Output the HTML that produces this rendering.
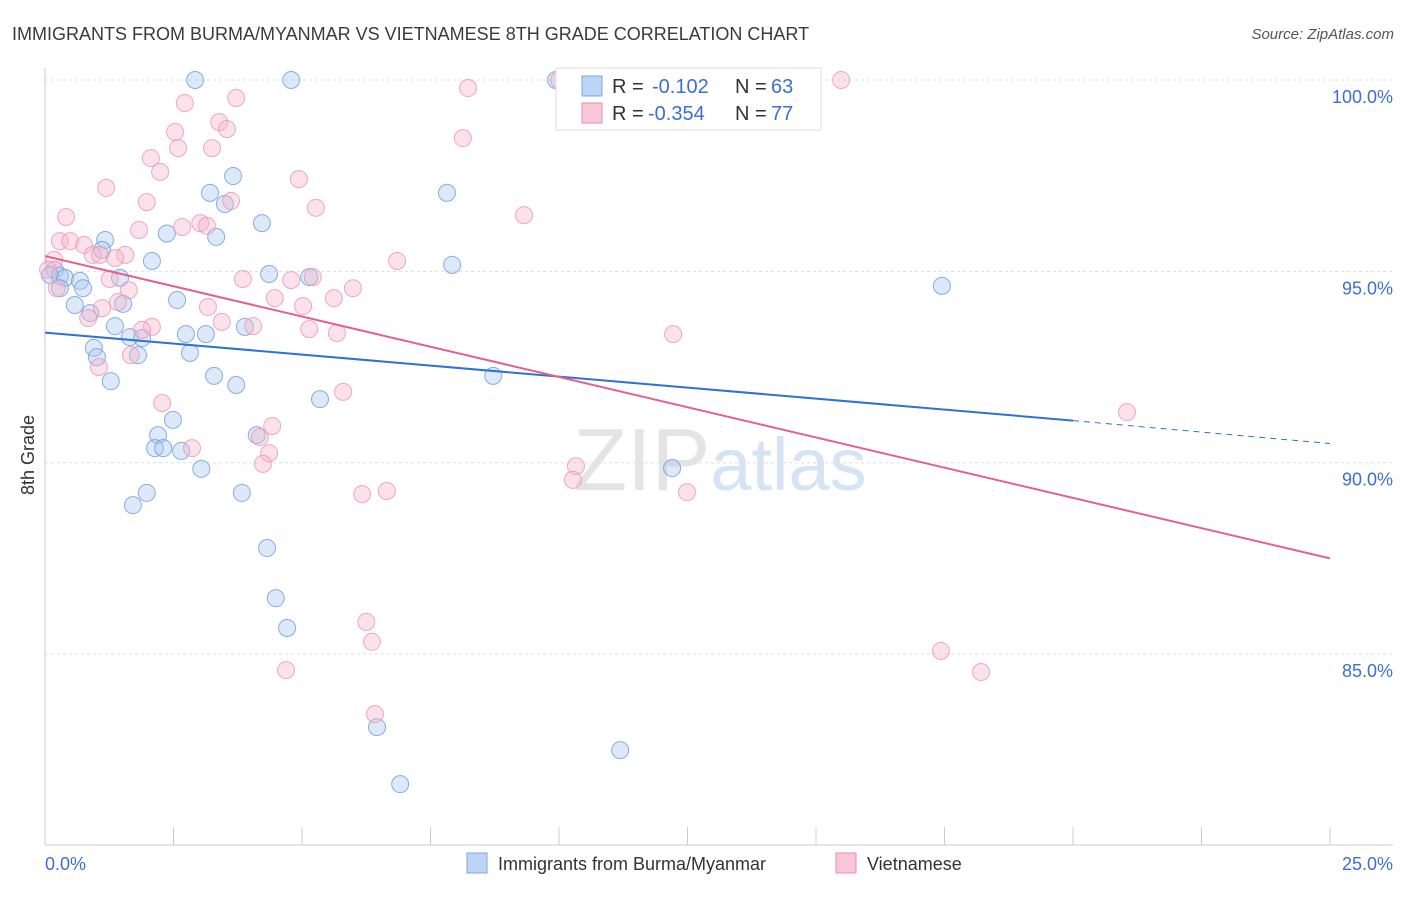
<!DOCTYPE html>
<html><head><meta charset="utf-8"><style>
body{margin:0;background:#fff;font-family:"Liberation Sans",sans-serif;}
svg text{font-family:"Liberation Sans",sans-serif;}
</style></head><body>
<svg id="chart" width="1406" height="892" viewBox="0 0 1406 892" xmlns="http://www.w3.org/2000/svg">
<text x="12" y="40" font-size="18" fill="#3a3a3a">IMMIGRANTS FROM BURMA/MYANMAR VS VIETNAMESE 8TH GRADE CORRELATION CHART</text>
<text x="1394" y="39" font-size="15" fill="#555" text-anchor="end" font-style="italic">Source: ZipAtlas.com</text>
<text x="720" y="490" font-size="88" fill="#e4e4e4" text-anchor="middle" font-family="Liberation Serif">ZIP<tspan fill="#d6e3f5" font-family="Liberation Sans" font-size="74">atlas</tspan></text>
<g id="grid"></g>
<g id="axes"></g>
<g id="points"></g>
<g id="trend"></g>
<text transform="translate(34,455) rotate(-90)" font-size="18" fill="#333" text-anchor="middle">8th Grade</text>
<g>
<rect x="556" y="68" width="265" height="62" fill="#fff" stroke="#ddd"/>
<rect x="582" y="76" width="20" height="20" fill="#bcd4f5" stroke="#7fa6e0"/>
<text x="612" y="93" font-size="20" fill="#333">R =</text>
<text x="652" y="93" font-size="20" fill="#3b6fd4">-0.102</text>
<text x="735" y="93" font-size="20" fill="#333">N =</text>
<text x="771" y="93" font-size="20" fill="#3b6fd4">63</text>
<rect x="582" y="103" width="20" height="20" fill="#f8c6d6" stroke="#e98fae"/>
<text x="612" y="120" font-size="20" fill="#333">R =</text>
<text x="648" y="120" font-size="20" fill="#3b6fd4">-0.354</text>
<text x="735" y="120" font-size="20" fill="#333">N =</text>
<text x="771" y="120" font-size="20" fill="#3b6fd4">77</text>
</g>
<g>
<rect x="467" y="853" width="20" height="20" fill="#bcd4f5" stroke="#7fa6e0"/>
<text x="498" y="870" font-size="18" fill="#333">Immigrants from Burma/Myanmar</text>
<rect x="836" y="853" width="20" height="20" fill="#f8c6d6" stroke="#e98fae"/>
<text x="867" y="870" font-size="18" fill="#333">Vietnamese</text>
</g>
</svg>
<script>
const xTicks=[0,2.5,5,7.5,10,12.5,15,17.5,20,22.5,25];
const yTicks=[100,95,90,85];
const yTickLabels=["100.0%","95.0%","90.0%","85.0%"];
const blueX=[2.92,4.79,9.94,12.82,3.66,3.21,7.82,3.50,4.22,2.37,3.33,1.17,1.11,2.08,7.92,4.36,5.14,0.19,0.10,0.29,0.39,0.68,1.46,0.74,0.29,2.57,0.58,1.52,0.88,1.36,3.89,2.74,3.13,1.65,1.89,0.95,1.81,2.82,1.01,1.28,3.29,3.72,8.72,5.35,17.45,2.49,2.20,4.12,2.14,2.30,2.65,12.20,3.04,1.98,3.83,1.71,4.32,4.49,4.71,6.46,11.19,6.91];
const blueY=[100,100,100,100,97.49,97.05,97.05,96.76,96.26,95.99,95.90,95.82,95.56,95.27,95.17,94.93,94.85,95.04,94.90,94.88,94.83,94.75,94.83,94.56,94.56,94.25,94.12,94.15,93.91,93.57,93.55,93.36,93.36,93.28,93.26,93.00,92.81,92.87,92.76,92.13,92.27,92.03,92.27,91.66,94.62,91.12,90.72,90.72,90.38,90.38,90.31,89.86,89.84,89.21,89.21,88.89,87.77,86.46,85.68,83.09,82.49,81.60];
const pinkX=[15.49,10.0,8.23,3.72,2.72,3.39,2.53,3.54,2.59,3.25,8.13,2.06,2.24,1.19,4.94,1.98,3.62,5.27,9.32,0.41,2.67,3.02,3.15,1.83,0.29,0.49,0.76,0.93,1.56,1.07,6.85,1.36,0.18,0.06,3.85,4.79,5.21,1.26,1.63,0.23,5.99,4.47,5.62,1.42,1.11,3.17,5.02,0.84,3.44,4.05,2.08,1.89,5.14,5.68,12.22,1.67,1.05,5.80,2.28,4.42,21.05,4.18,2.86,4.36,4.24,10.33,10.27,12.49,6.17,6.65,6.25,6.36,4.69,17.43,18.21,6.42];
const pinkY=[100,100,99.79,99.53,99.40,98.90,98.64,98.72,98.22,98.22,98.48,97.96,97.60,97.18,97.41,96.81,96.84,96.66,96.47,96.42,96.16,96.26,96.19,96.08,95.79,95.79,95.69,95.43,95.43,95.43,95.27,95.35,95.30,95.04,94.80,94.77,94.85,94.80,94.51,94.56,94.56,94.30,94.30,94.20,94.04,94.07,94.09,93.78,93.68,93.57,93.55,93.47,93.49,93.39,93.36,92.81,92.50,91.85,91.56,90.96,91.32,90.67,90.38,90.25,89.97,89.91,89.55,89.23,89.18,89.26,85.84,85.32,84.58,85.08,84.53,83.43];
const blueTrend=[93.4,91.1,90.5]; // at x=0, 20, 25
const pinkTrend=[95.4,87.5]; // at x=0, 25
const xs=v=>45+v*51.4;
const ys=v=>80+(100-v)*38.27;
const NS="http://www.w3.org/2000/svg";
function mk(tag,attrs,parent){const e=document.createElementNS(NS,tag);for(const k in attrs)e.setAttribute(k,attrs[k]);parent.appendChild(e);return e;}
const grid=document.getElementById('grid'),axes=document.getElementById('axes'),trend=document.getElementById('trend'),pts=document.getElementById('points');
yTicks.forEach((t,i)=>{
  const l=mk('line',{x1:45,x2:1393,y1:ys(t),y2:ys(t),stroke:'#ddd','stroke-dasharray':'3,3'},grid);
  
  
  const tx=mk('text',{x:1393,y:ys(t)+23,'font-size':18,fill:'#3b6fd4','text-anchor':'end'},axes);
  tx.textContent=yTickLabels[i];
  
  
});
const yAx=mk('line',{x1:45,x2:45,y1:68,y2:845,stroke:'#ccc'},axes);


const xAx=mk('line',{x1:45,x2:1393,y1:845,y2:845,stroke:'#ccc'},axes);


xTicks.forEach(t=>{
  const l=mk('line',{x1:xs(t),x2:xs(t),y1:827,y2:845,stroke:'#ccc'},axes);
  
  
});
const x0=mk('text',{x:45,y:870,'font-size':18,fill:'#3b6fd4'},axes);x0.textContent='0.0%';


const x1=mk('text',{x:1393,y:870,'font-size':18,fill:'#3b6fd4','text-anchor':'end'},axes);x1.textContent='25.0%';


function dot(x,y,fill,stroke,name){
  const c=mk('circle',{cx:xs(x),cy:ys(y),r:8.5,fill:fill,'fill-opacity':0.4,stroke:stroke,'stroke-opacity':0.8,'stroke-width':1},pts);
  
  
}
blueX.forEach((x,i)=>dot(x,blueY[i],'#a9c8f0','#6b9be0','point-burma'));
pinkX.forEach((x,i)=>dot(x,pinkY[i],'#f4b3c8','#eb95b3','point-vietnamese'));
const b1=mk('line',{x1:xs(0),y1:ys(blueTrend[0]),x2:xs(20),y2:ys(blueTrend[1]),stroke:'#2e72d6','stroke-width':2},trend);


const b2=mk('line',{x1:xs(20),y1:ys(blueTrend[1]),x2:xs(25),y2:ys(blueTrend[2]),stroke:'#2e72d6','stroke-width':1,'stroke-dasharray':'6,5'},trend);


const p1=mk('line',{x1:xs(0),y1:ys(pinkTrend[0]),x2:xs(25),y2:ys(pinkTrend[1]),stroke:'#e4608f','stroke-width':2},trend);


</script>
</body></html>
